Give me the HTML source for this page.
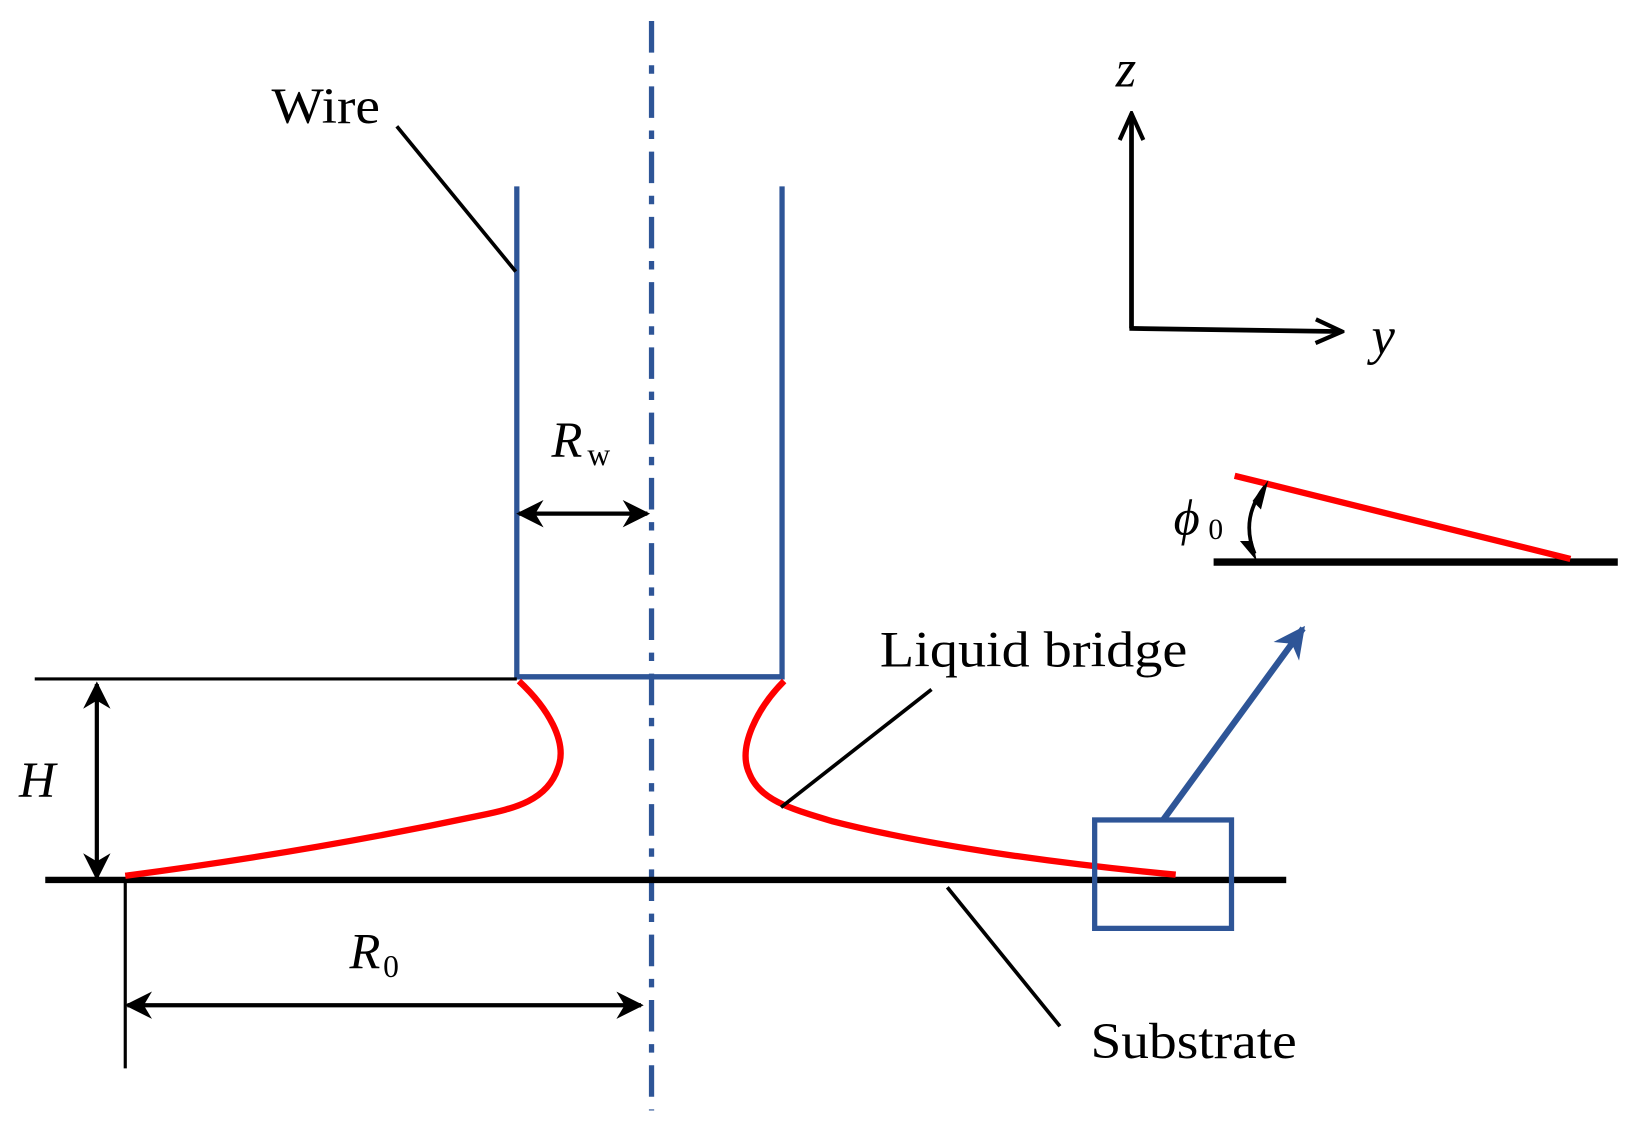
<!DOCTYPE html>
<html><head><meta charset="utf-8"><style>html,body{margin:0;padding:0;background:#fff}svg{display:block}</style></head><body>
<svg width="1642" height="1129" viewBox="0 0 1560 1072.6" xmlns="http://www.w3.org/2000/svg" font-family="Liberation Serif, serif">
<defs>
<marker id="ahb" viewBox="0 0 10 10" refX="9" refY="5" markerWidth="30" markerHeight="30" orient="auto" markerUnits="userSpaceOnUse"><path d="M0,0 L10,5 L0,10 L3,5 Z" fill="#2E5597"/></marker>
<marker id="aho" viewBox="0 0 12 12" refX="11" refY="6" markerWidth="30" markerHeight="30" orient="auto" markerUnits="userSpaceOnUse"><path d="M1,1.5 L11,6 L1,10.5" fill="none" stroke="#000" stroke-width="1.6"/></marker>
<marker id="ahs" viewBox="0 0 10 10" refX="9" refY="5" markerWidth="26" markerHeight="26" orient="auto-start-reverse" markerUnits="userSpaceOnUse"><path d="M0,0 L10,5 L0,10 L3,5 Z" fill="#000"/></marker>
</defs>
<line x1="619" y1="20" x2="619" y2="1055" stroke="#2E5597" stroke-width="5" stroke-dasharray="30,12,8,12"/>
<path d="M491,177 V643 H743 V177" fill="none" stroke="#2E5597" stroke-width="5"/>
<line x1="33" y1="645" x2="491" y2="645" stroke="#000" stroke-width="3"/>
<line x1="43" y1="836" x2="1222" y2="836" stroke="#000" stroke-width="6"/>
<line x1="119" y1="836" x2="119" y2="1015" stroke="#000" stroke-width="3"/>
<line x1="92" y1="650" x2="92" y2="834" stroke="#000" stroke-width="4" marker-start="url(#ahs)" marker-end="url(#ahs)"/>
<line x1="121" y1="955" x2="609" y2="955" stroke="#000" stroke-width="4" marker-start="url(#ahs)" marker-end="url(#ahs)"/>
<line x1="493" y1="488" x2="615" y2="488" stroke="#000" stroke-width="4" marker-start="url(#ahs)" marker-end="url(#ahs)"/>
<path d="M493,647 C520,672 540,705 530,730 C520,760 490,768 455,775 C360,795 250,815 119,832" fill="none" stroke="#f00" stroke-width="6"/>
<path d="M745,647 C720,672 700,710 712,735 C722,760 750,768 790,780 C880,803 1000,820 1117,831" fill="none" stroke="#f00" stroke-width="6"/>
<rect x="1040" y="779" width="130" height="103" fill="none" stroke="#2E5597" stroke-width="5"/>
<line x1="1105" y1="779" x2="1238" y2="597" stroke="#2E5597" stroke-width="6" marker-end="url(#ahb)"/>
<line x1="1075" y1="312" x2="1075" y2="108" stroke="#000" stroke-width="4.5" marker-end="url(#aho)"/>
<line x1="1073" y1="312" x2="1275" y2="315" stroke="#000" stroke-width="4.5" marker-end="url(#aho)"/>
<text x="1060" y="82" font-size="50" font-style="italic">z</text>
<text x="1303" y="336" font-size="50" font-style="italic">y</text>
<line x1="1153" y1="534" x2="1537" y2="534" stroke="#000" stroke-width="7"/>
<line x1="1173" y1="452" x2="1492" y2="531" stroke="#f00" stroke-width="6"/>
<path d="M1202,462 Q1178,492 1192,526" fill="none" stroke="#000" stroke-width="3.5"/>
<path d="M1205,456 L1198,484 L1190,476 Z" fill="#000"/>
<path d="M1194,533 L1178,514 L1190,514 Z" fill="#000"/>
<text x="1115" y="508" font-size="48" font-style="italic">ϕ</text>
<text x="1148" y="512" font-size="28">0</text>
<text x="258" y="117" font-size="48" textLength="103" lengthAdjust="spacingAndGlyphs">Wire</text>
<line x1="377" y1="120" x2="490" y2="258" stroke="#000" stroke-width="3.5"/>
<text x="836" y="633" font-size="48" textLength="292" lengthAdjust="spacingAndGlyphs">Liquid bridge</text>
<line x1="885" y1="655" x2="742" y2="767" stroke="#000" stroke-width="3.5"/>
<text x="1036" y="1005" font-size="48" textLength="196" lengthAdjust="spacingAndGlyphs">Substrate</text>
<line x1="900" y1="843" x2="1007" y2="975" stroke="#000" stroke-width="3.5"/>
<text x="18" y="757" font-size="48" font-style="italic">H</text>
<text x="332" y="920" font-size="48" font-style="italic">R</text>
<text x="364" y="928" font-size="30">0</text>
<text x="524" y="434" font-size="48" font-style="italic">R</text>
<text x="558" y="442" font-size="30">w</text>
</svg>
</body></html>
